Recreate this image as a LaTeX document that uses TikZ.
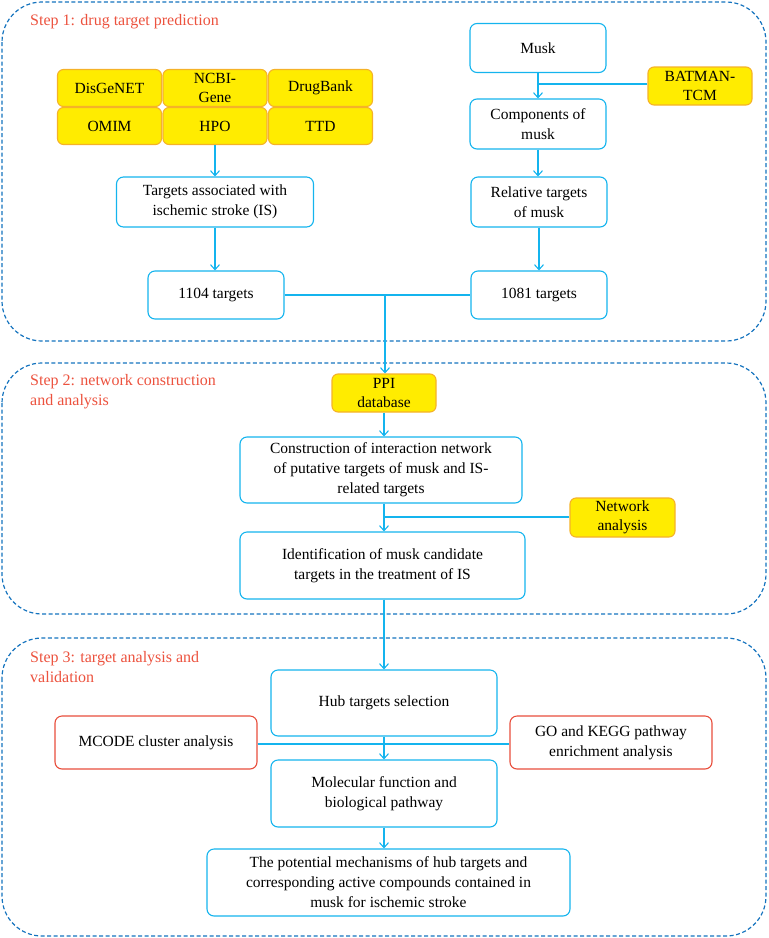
\documentclass[tikz,border=0pt]{standalone}
\usepackage{fontspec}
\setmainfont{Liberation Serif}
\usetikzlibrary{arrows.meta}
\definecolor{cyanb}{RGB}{20,180,238}
\definecolor{dashb}{RGB}{20,115,190}
\definecolor{yelf}{RGB}{255,236,0}
\definecolor{yelb}{RGB}{245,178,40}
\definecolor{redb}{RGB}{232,78,60}
\definecolor{redt}{RGB}{236,82,62}
\tikzset{
  cbox/.style={draw=cyanb, line width=1.1pt, rounded corners=7pt, fill=white, align=center, font=\fontsize{15.5}{20}\selectfont, inner sep=1pt},
  ybox/.style={draw=yelb, line width=1.1pt, rounded corners=6pt, fill=yelf, align=center, font=\fontsize{15.5}{19}\selectfont, inner sep=0pt},
  rbox/.style={draw=redb, line width=1.1pt, rounded corners=7pt, fill=white, align=center, font=\fontsize{15.5}{20}\selectfont, inner sep=1pt},
  stepframe/.style={draw=dashb, line width=1.2pt, dash pattern=on 4pt off 2.5pt, rounded corners=40pt},
  steptitle/.style={text=redt, align=left, font=\fontsize{16}{20}\selectfont, inner sep=0pt},
  conn/.style={draw=cyanb, line width=1.1pt},
  arr/.style={conn, -{Straight Barb[length=5pt,width=9pt,line width=1.1pt]}}
}
\begin{document}
\begin{tikzpicture}[x=1pt,y=-1pt]
\useasboundingbox (0,0) rectangle (769,938);
% frames
\draw[stepframe] (2,2) rectangle (766,341);
\draw[stepframe] (2,363) rectangle (766,614);
\draw[stepframe] (2,638) rectangle (766,936);
\node[steptitle, anchor=west] (t1) at (30,22) {Step 1: drug target prediction};
\node[steptitle, anchor=north west] (t2) at (30,374) {Step 2: network construction\\and analysis};
\node[steptitle, anchor=north west] (t3) at (30,651) {Step 3: target analysis and\\validation};
% databases grid
\node[ybox, minimum width=104pt, minimum height=37pt] (dis) at (109.5,88) {DisGeNET};
\node[ybox, minimum width=104pt, minimum height=37pt] (ncbi) at (215,88) {NCBI-\\Gene};
\node[ybox, minimum width=104pt, minimum height=37pt] (drug) at (320.5,88) {DrugBank};
\node[ybox, minimum width=104pt, minimum height=37pt] (omim) at (109.5,126) {OMIM};
\node[ybox, minimum width=104pt, minimum height=37pt] (hpo) at (215,126) {HPO};
\node[ybox, minimum width=104pt, minimum height=37pt] (ttd) at (320.5,126) {TTD};
% step 1 left
\node[cbox, minimum width=197pt, minimum height=50pt] (tis) at (215,202) {Targets associated with\\ischemic stroke (IS)};
\node[cbox, minimum width=136pt, minimum height=48pt] (t1104) at (216,295) {1104 targets};
% step 1 right
\node[cbox, minimum width=136pt, minimum height=49pt] (musk) at (538,48) {Musk};
\node[cbox, minimum width=136pt, minimum height=50pt] (comp) at (538,124) {Components of\\musk};
\node[ybox, minimum width=104pt, minimum height=38pt] (bat) at (700,86) {BATMAN-\\TCM};
\node[cbox, minimum width=136pt, minimum height=50pt] (rel) at (539,202) {Relative targets\\of musk};
\node[cbox, minimum width=136pt, minimum height=48pt] (t1081) at (539,295) {1081 targets};
\coordinate (jb) at (538,84);
\coordinate (j1) at (385,295);
% step 2
\node[ybox, minimum width=104pt, minimum height=38pt] (ppi) at (384,393) {PPI\\database};
\node[cbox, minimum width=282pt, minimum height=66pt] (cons) at (381,470) {Construction of interaction network\\of putative targets of musk and IS-\\related targets};
\node[ybox, minimum width=105pt, minimum height=39pt] (net) at (622.5,517.5) {Network\\analysis};
\node[cbox, minimum width=285pt, minimum height=67pt] (ident) at (382.5,565.5) {Identification of musk candidate\\targets in the treatment of IS};
\coordinate (jn) at (384,517);
% step 3
\node[cbox, minimum width=226pt, minimum height=66pt] (hub) at (384,703) {Hub targets selection};
\node[rbox, minimum width=202pt, minimum height=53pt] (mcode) at (156,742.5) {MCODE cluster analysis};
\node[rbox, minimum width=202pt, minimum height=53pt] (go) at (611,742.5) {GO and KEGG pathway\\enrichment analysis};
\node[cbox, minimum width=226pt, minimum height=67pt] (mol) at (384,793.5) {Molecular function and\\biological pathway};
\node[cbox, minimum width=363pt, minimum height=67pt] (pot) at (388.5,882.5) {The potential mechanisms of hub targets and\\corresponding active compounds contained in\\musk for ischemic stroke};
\coordinate (jm) at (384,744);
% connectors
\draw[arr] (hpo.south) -- (tis.north);
\draw[arr] (tis.south) -- (tis.south |- t1104.north);
\draw[arr] (musk.south) -- (comp.north);
\draw[conn] (jb -| bat.west) -- (jb);
\draw[arr] (comp.south) -- (comp.south |- rel.north);
\draw[arr] (rel.south) -- (t1081.north);
\draw[conn] (t1104.east) -- (t1081.west);
\draw[arr] (j1) -- (j1 |- ppi.north);
\draw[arr] (ppi.south) -- (ppi.south |- cons.north);
\draw[arr] (ppi.south |- cons.south) -- (ppi.south |- ident.north);
\draw[conn] (jn -| net.west) -- (jn);
\draw[arr] (ppi.south |- ident.south) -- (hub.north);
\draw[conn] (jm -| mcode.east) -- (jm -| go.west);
\draw[arr] (hub.south) -- (mol.north);
\draw[arr] (mol.south) -- (mol.south |- pot.north);
\end{tikzpicture}
\end{document}
